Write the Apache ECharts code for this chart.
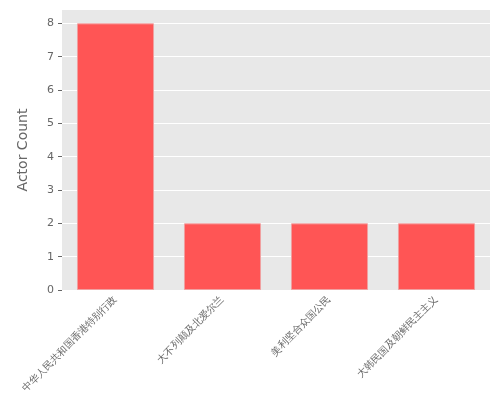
<!DOCTYPE html>
<html><head><meta charset="utf-8">
<script src="https://cdn.jsdelivr.net/npm/echarts@6/dist/echarts.min.js"></script>
<style>html,body{margin:0;background:#fff}#c{width:500px;height:400px}</style>
</head><body><div id="c"></div>
<script>
var nationalities = ['中华人民共和国香港特别行政', '大不列颠及北爱尔兰', '美利坚合众国公民', '大韩民国及朝鲜民主主义'];
var actorCounts = [8, 2, 2, 2];
var yTicks = [0, 1, 2, 3, 4, 5, 6, 7, 8];

var chart = echarts.init(document.getElementById('c'));
chart.setOption({
    backgroundColor: '#fff',
    grid: { left: 62, right: 10, top: 10, bottom: 110, outerBoundsMode: 'none', containLabel: false,
        backgroundColor: '#e8e8e8', show: true, borderWidth: 0 },
    xAxis: {
        type: 'category', data: nationalities,
        name: 'Nationalities', nameLocation: 'middle', nameGap: 92,
        nameTextStyle: { color: '#666', fontSize: 14, fontFamily: 'DejaVu Sans' },
        axisLine: { show: false },
        axisTick: { alignWithLabel: true, length: 4, lineStyle: { color: '#666' } },
        axisLabel: { rotate: 45, color: '#666', fontSize: 10, interval: 0 }
    },
    yAxis: {
        type: 'value', min: 0, max: 8.4,
        name: 'Actor Count', nameLocation: 'middle', nameGap: 32,
        nameTextStyle: { color: '#666', fontSize: 14, fontFamily: 'DejaVu Sans' },
        axisLabel: { color: '#666', fontSize: 11, fontFamily: 'DejaVu Sans', customValues: yTicks },
        axisTick: { show: true, length: 4, lineStyle: { color: '#666' }, customValues: yTicks },
        axisLine: { show: false },
        splitLine: { lineStyle: { color: '#fff', width: 1 } }
    },
    series: [{
        type: 'bar', data: actorCounts, barWidth: '72%',
        itemStyle: { color: '#ff5555', borderColor: '#f0a0a0', borderWidth: 1 }
    }]
});
</script></body></html>
